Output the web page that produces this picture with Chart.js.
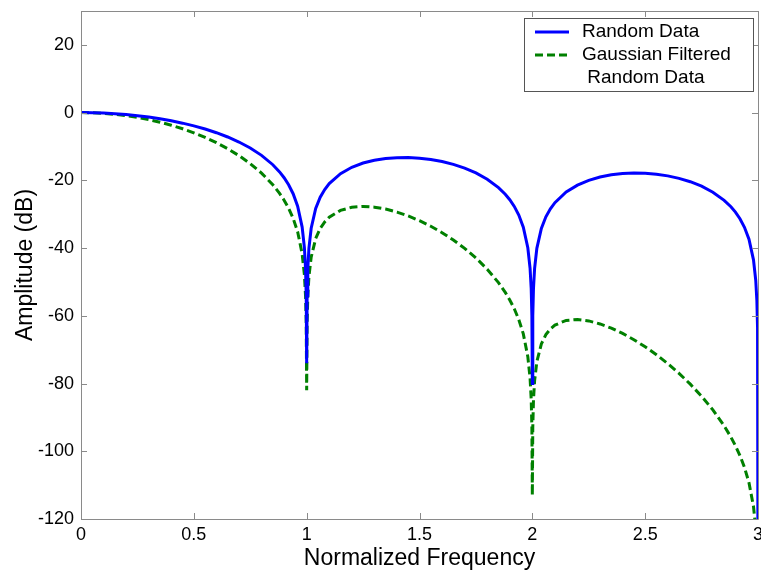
<!DOCTYPE html>
<html>
<head>
<meta charset="utf-8">
<script src="https://cdn.jsdelivr.net/npm/chart.js@4.4.0/dist/chart.umd.min.js"></script>
<style>
  html, body { margin: 0; padding: 0; background: #fff; }
  #wrap { width: 761px; height: 574px; }
</style>
</head>
<body>
<div id="wrap"><canvas id="specChart" width="761" height="574"></canvas></div>
<script>
// Frequency samples (normalized), denser near the nulls
const freqs = [
  0, 0.05, 0.1, 0.15, 0.2, 0.25, 0.3, 0.35, 0.4, 0.45, 0.5, 0.55, 0.6, 0.65, 0.7, 0.75, 0.8, 0.85,
  0.88, 0.9, 0.92, 0.94, 0.96, 0.98, 0.99, 0.995, 0.998, 1.0, 1.002, 1.005, 1.01, 1.02, 1.04, 1.06, 1.08,
  1.1, 1.15, 1.2, 1.25, 1.3, 1.35, 1.4, 1.45, 1.5, 1.55, 1.6, 1.65, 1.7, 1.75, 1.8, 1.85,
  1.88, 1.9, 1.92, 1.94, 1.96, 1.98, 1.99, 1.995, 1.998, 2.0, 2.002, 2.005, 2.01, 2.02, 2.04, 2.06, 2.08,
  2.1, 2.15, 2.2, 2.25, 2.3, 2.35, 2.4, 2.45, 2.5, 2.55, 2.6, 2.65, 2.7, 2.75, 2.8, 2.85,
  2.88, 2.9, 2.92, 2.94, 2.96, 2.98, 2.99, 2.995, 2.998, 3.0
];

// Amplitude in dB
const randomDb = [
  0, -0.04, -0.14, -0.32, -0.58, -0.91, -1.33, -1.83, -2.42, -3.12, -3.92, -4.86, -5.94, -7.2, -8.69, -10.45, -12.62, -15.39,
  -17.51, -19.23, -21.31, -23.95, -27.63, -33.81, -39.91, -45.98, -53.96, -74, -54.0, -46.07, -40.09, -34.16, -28.32, -24.99, -22.7,
  -20.97, -18.02, -16.14, -14.89, -14.06, -13.55, -13.3, -13.28, -13.46, -13.86, -14.46, -15.3, -16.39, -17.81, -19.66, -22.15,
  -24.11, -25.72, -27.7, -30.25, -33.83, -39.92, -45.98, -52.02, -59.99, -80, -60.02, -52.06, -46.07, -40.09, -34.18, -30.77, -28.39,
  -26.59, -23.45, -21.41, -20.0, -19.02, -18.37, -17.98, -17.83, -17.9, -18.18, -18.68, -19.41, -20.41, -21.74, -23.5, -25.9,
  -27.81, -29.39, -31.34, -33.86, -37.41, -43.47, -49.51, -55.55, -63.52, -140
];

const filteredDb = [
  0, -0.06, -0.23, -0.51, -0.91, -1.42, -2.07, -2.83, -3.73, -4.78, -5.97, -7.34, -8.89, -10.67, -12.7, -15.07, -17.87, -21.31,
  -23.86, -25.87, -28.25, -31.2, -35.19, -41.69, -47.95, -54.1, -62.13, -82, -62.23, -54.35, -48.46, -42.69, -37.19, -34.2, -32.27,
  -30.89, -28.87, -27.95, -27.7, -27.92, -28.49, -29.37, -30.52, -31.91, -33.56, -35.45, -37.62, -40.09, -42.92, -46.23, -50.21,
  -53.09, -55.32, -57.93, -61.11, -65.33, -72.07, -78.45, -84.66, -92.72, -113, -92.89, -85.02, -79.2, -73.55, -68.31, -65.57, -63.87,
  -62.75, -61.36, -61.1, -61.51, -62.4, -63.65, -65.21, -67.05, -69.15, -71.5, -74.11, -76.99, -80.19, -83.75, -87.79, -92.5,
  -95.82, -98.35, -101.26, -104.74, -109.26, -116.29, -122.8, -129.1, -137, -200
];

const seriesLabels = ['Random Data', 'Gaussian Filtered\n Random Data'];
const xTicks = [0, 0.5, 1, 1.5, 2, 2.5, 3];
const yTicks = [20, 0, -20, -40, -60, -80, -100, -120];

const AXIS_COLOR = '#8a8a8a';
const FONT = '"Liberation Sans", Arial, sans-serif';

function toPoints(values) {
    return freqs.map((f, i) => ({ x: f, y: values[i] }));
}

// Box around the plot with MATLAB style inward ticks, plus the legend
const boxPlugin = {
    id: 'matlabBox',
    afterDatasetsDraw(chart) {
        const ctx = chart.ctx;
        const area = chart.chartArea;
        const xs = chart.scales.x;
        const ys = chart.scales.y;
        const tick = 6;

        ctx.save();
        ctx.strokeStyle = AXIS_COLOR;
        ctx.lineWidth = 1;
        ctx.beginPath();
        ctx.rect(Math.round(area.left) + 0.5, Math.round(area.top) + 0.5,
                 Math.round(area.width), Math.round(area.height));
        xTicks.forEach(v => {
            const px = Math.round(xs.getPixelForValue(v)) + 0.5;
            ctx.moveTo(px, area.bottom);
            ctx.lineTo(px, area.bottom - tick);
            ctx.moveTo(px, area.top);
            ctx.lineTo(px, area.top + tick);
        });
        yTicks.forEach(v => {
            const py = Math.round(ys.getPixelForValue(v)) + 0.5;
            ctx.moveTo(area.left, py);
            ctx.lineTo(area.left + tick, py);
            ctx.moveTo(area.right, py);
            ctx.lineTo(area.right - tick, py);
        });
        ctx.stroke();

        // legend
        const bx = 524, by = 18, bw = 229, bh = 73;
        ctx.fillStyle = '#fff';
        ctx.fillRect(bx, by, bw, bh);
        ctx.strokeStyle = '#555';
        ctx.strokeRect(bx + 0.5, by + 0.5, bw, bh);

        const rows = [32, 55];
        chart.data.datasets.forEach((ds, i) => {
            ctx.strokeStyle = ds.borderColor;
            ctx.lineWidth = 3;
            ctx.setLineDash(ds.borderDash || []);
            ctx.beginPath();
            ctx.moveTo(535, rows[i]);
            ctx.lineTo(569, rows[i]);
            ctx.stroke();
        });
        ctx.setLineDash([]);
        ctx.fillStyle = '#000';
        ctx.font = '19px ' + FONT;
        ctx.textBaseline = 'middle';
        ctx.textAlign = 'left';
        const lines = seriesLabels.join('\n').split('\n');
        lines.forEach((txt, i) => {
            ctx.fillText(txt, 582, 32 + i * 23);
        });
        ctx.restore();
    }
};

const ctx = document.getElementById('specChart').getContext('2d');
new Chart(ctx, {
    type: 'line',
    data: {
        datasets: [
            {
                label: seriesLabels[0],
                data: toPoints(randomDb),
                borderColor: '#0000ff',
                borderWidth: 3,
                pointRadius: 0,
                tension: 0
            },
            {
                label: seriesLabels[1],
                data: toPoints(filteredDb),
                borderColor: '#008000',
                borderWidth: 3,
                borderDash: [8, 4],
                pointRadius: 0,
                tension: 0
            }
        ]
    },
    options: {
        responsive: false,
        animation: false,
        layout: { padding: { top: 11, right: 3, bottom: 0, left: 0 } },
        plugins: {
            legend: { display: false },
            tooltip: { enabled: false }
        },
        scales: {
            x: {
                type: 'linear',
                min: 0,
                max: 3,
                afterFit: s => { s.height = 55; s.paddingLeft = 0; s.paddingRight = 0; },
                afterBuildTicks: s => { s.ticks = xTicks.map(v => ({ value: v })); },
                grid: { display: false, drawTicks: false },
                border: { display: false },
                ticks: {
                    color: '#000',
                    padding: 5,
                    maxRotation: 0,
                    callback: v => String(v),
                    font: { family: FONT, size: 18 }
                },
                title: {
                    display: true,
                    text: 'Normalized Frequency',
                    color: '#000',
                    padding: { top: 2, bottom: 2 },
                    font: { family: FONT, size: 23 }
                }
            },
            y: {
                type: 'linear',
                min: -120,
                max: 30,
                afterFit: s => { s.width = 81; s.paddingTop = 0; s.paddingBottom = 0; },
                afterBuildTicks: s => { s.ticks = yTicks.map(v => ({ value: v })); },
                grid: { display: false, drawTicks: false },
                border: { display: false },
                ticks: {
                    color: '#000',
                    padding: 7,
                    callback: v => String(v),
                    font: { family: FONT, size: 18 }
                },
                title: {
                    display: true,
                    text: 'Amplitude (dB)',
                    color: '#000',
                    padding: { top: 12, bottom: 0 },
                    font: { family: FONT, size: 23 }
                }
            }
        }
    },
    plugins: [boxPlugin]
});
</script>
</body>
</html>
